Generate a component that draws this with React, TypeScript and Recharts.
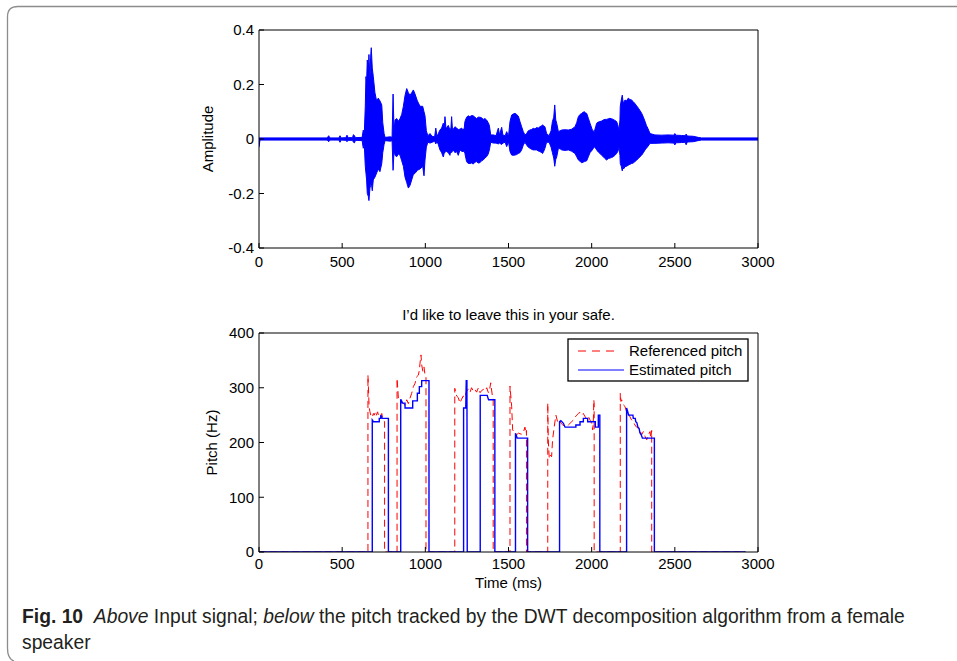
import React from 'react';
import { ComposedChart, Area, Line, XAxis, YAxis } from 'recharts';

const FONT = "'Liberation Sans', Arial, Helvetica, sans-serif";

// ---- Top panel: input signal envelope (ms, amplitude) ----
const waveTime = [
  0, 6, 410, 419, 426, 480, 487, 494, 522, 529, 536, 562, 568, 574, 580, 620, 627, 633, 639, 643,
  647, 651, 657, 661, 667, 671, 675, 681, 687, 697, 707, 717, 727, 738, 744, 752, 758, 790, 800, 806,
  812, 818, 828, 838, 848, 858, 868, 878, 888, 898, 908, 918, 928, 938, 952, 968, 984, 992, 998, 1006,
  1015, 1028, 1040, 1056, 1063, 1070, 1078, 1088, 1098, 1108, 1114, 1118, 1124, 1128, 1138, 1148, 1154, 1158, 1163, 1168,
  1178, 1188, 1198, 1208, 1218, 1228, 1234, 1238, 1248, 1258, 1268, 1278, 1288, 1298, 1308, 1318, 1328, 1338, 1348, 1358,
  1368, 1378, 1385, 1393, 1410, 1425, 1439, 1446, 1459, 1466, 1480, 1489, 1500, 1509, 1519, 1529, 1539, 1549, 1559, 1569,
  1579, 1589, 1599, 1609, 1619, 1629, 1639, 1649, 1659, 1669, 1679, 1689, 1699, 1705, 1712, 1719, 1729, 1744, 1756, 1764,
  1772, 1778, 1784, 1790, 1800, 1810, 1820, 1840, 1860, 1880, 1900, 1910, 1920, 1930, 1940, 1948, 1956, 1963, 1970, 1980,
  1990, 2004, 2016, 2024, 2030, 2040, 2050, 2060, 2070, 2080, 2090, 2100, 2110, 2120, 2130, 2140, 2150, 2158, 2164, 2170,
  2172, 2178, 2184, 2188, 2192, 2200, 2210, 2220, 2230, 2240, 2250, 2260, 2270, 2281, 2291, 2301, 2311, 2321, 2329, 2337,
  2351, 2380, 2420, 2460, 2495, 2500, 2506, 2540, 2562, 2568, 2575, 2610, 2640, 2660, 3000,
];
const waveMax = [
  0.004, 0.004, 0.004, 0.012, 0.004, 0.004, 0.012, 0.004, 0.005, 0.014, 0.005, 0.005, 0.016, 0.012, 0.005, 0.006, 0.033, 0.02, 0.12, 0.229,
  0.21, 0.29, 0.25, 0.31, 0.22, 0.3, 0.335, 0.26, 0.23, 0.17, 0.14, 0.15, 0.14, 0.125, 0.06, 0.02, 0.006, 0.008, 0.006, 0.165,
  0.03, 0.07, 0.075, 0.065, 0.075, 0.09, 0.12, 0.16, 0.185, 0.17, 0.16, 0.17, 0.18, 0.165, 0.14, 0.12, 0.12, 0.1, 0.085, 0.03,
  0.012, 0.02, 0.01, 0.008, 0.04, 0.008, 0.02, 0.033, 0.04, 0.058, 0.04, 0.082, 0.04, 0.04, 0.05, 0.033, 0.04, 0.082, 0.036, 0.036,
  0.045, 0.04, 0.035, 0.036, 0.04, 0.033, 0.04, 0.064, 0.08, 0.085, 0.082, 0.086, 0.085, 0.08, 0.075, 0.08, 0.08, 0.078, 0.072, 0.075,
  0.07, 0.06, 0.05, 0.015, 0.015, 0.012, 0.04, 0.015, 0.043, 0.015, 0.012, 0.027, 0.01, 0.064, 0.088, 0.092, 0.094, 0.09, 0.084, 0.064,
  0.045, 0.027, 0.015, 0.02, 0.03, 0.033, 0.035, 0.039, 0.037, 0.042, 0.04, 0.045, 0.048, 0.052, 0.048, 0.045, 0.02, 0.012, 0.03, 0.064,
  0.08, 0.125, 0.07, 0.057, 0.027, 0.03, 0.033, 0.034, 0.033, 0.036, 0.045, 0.06, 0.082, 0.09, 0.094, 0.098, 0.1, 0.096, 0.094, 0.076,
  0.058, 0.033, 0.027, 0.045, 0.058, 0.062, 0.064, 0.066, 0.07, 0.072, 0.072, 0.074, 0.076, 0.074, 0.072, 0.068, 0.064, 0.05, 0.03, 0.07,
  0.12, 0.143, 0.161, 0.14, 0.13, 0.143, 0.14, 0.15, 0.145, 0.143, 0.137, 0.13, 0.122, 0.113, 0.104, 0.094, 0.08, 0.064, 0.05, 0.04,
  0.02, 0.015, 0.014, 0.015, 0.014, 0.02, 0.014, 0.013, 0.012, 0.018, 0.011, 0.01, 0.006, 0.004, 0.004,
];
const waveMin = [
  -0.03, -0.004, -0.004, -0.01, -0.004, -0.004, -0.012, -0.004, -0.005, -0.01, -0.005, -0.005, -0.012, -0.014, -0.005, -0.006, -0.034, -0.02, -0.1, -0.125,
  -0.15, -0.2, -0.21, -0.226, -0.18, -0.17, -0.16, -0.19, -0.15, -0.14, -0.125, -0.11, -0.12, -0.09, -0.05, -0.02, -0.006, -0.008, -0.006, -0.115,
  -0.04, -0.06, -0.065, -0.055, -0.06, -0.08, -0.1, -0.14, -0.16, -0.18, -0.17, -0.15, -0.13, -0.126, -0.115, -0.11, -0.1, -0.135, -0.077, -0.03,
  -0.012, -0.015, -0.012, -0.008, -0.018, -0.008, -0.02, -0.04, -0.05, -0.066, -0.05, -0.05, -0.045, -0.046, -0.05, -0.06, -0.04, -0.05, -0.045, -0.04,
  -0.05, -0.046, -0.06, -0.04, -0.045, -0.046, -0.045, -0.053, -0.083, -0.09, -0.09, -0.088, -0.092, -0.085, -0.083, -0.088, -0.087, -0.08, -0.077, -0.07,
  -0.065, -0.055, -0.04, -0.012, -0.015, -0.015, -0.018, -0.015, -0.02, -0.015, -0.012, -0.028, -0.01, -0.046, -0.059, -0.06, -0.059, -0.057, -0.053, -0.05,
  -0.04, -0.022, -0.012, -0.022, -0.03, -0.034, -0.038, -0.04, -0.04, -0.04, -0.044, -0.046, -0.05, -0.053, -0.045, -0.034, -0.012, -0.012, -0.03, -0.05,
  -0.07, -0.1, -0.075, -0.065, -0.034, -0.036, -0.04, -0.042, -0.04, -0.045, -0.053, -0.065, -0.077, -0.082, -0.087, -0.085, -0.083, -0.082, -0.08, -0.065,
  -0.05, -0.04, -0.028, -0.035, -0.04, -0.048, -0.053, -0.06, -0.065, -0.072, -0.077, -0.072, -0.07, -0.068, -0.065, -0.06, -0.053, -0.045, -0.03, -0.06,
  -0.09, -0.1, -0.117, -0.1, -0.11, -0.102, -0.1, -0.096, -0.093, -0.09, -0.088, -0.083, -0.078, -0.071, -0.065, -0.059, -0.05, -0.04, -0.034, -0.028,
  -0.016, -0.016, -0.015, -0.014, -0.015, -0.022, -0.014, -0.013, -0.012, -0.021, -0.011, -0.01, -0.006, -0.004, -0.004,
];

// ---- Bottom panel: pitch tracks (ms, Hz) ----
const refTime = [
  0, 655, 655, 662, 667, 672, 677, 683, 688, 693, 698, 703, 708, 713, 718, 723, 728, 733, 738, 743, 748, 755, 755,
  830, 830, 838, 848, 858, 868, 878, 888, 898, 908, 918, 928, 938, 948, 958, 964, 968, 974, 978, 985, 992, 997, 1004, 1004,
  1177, 1177, 1188, 1198, 1208, 1218, 1228, 1238, 1248, 1258, 1268, 1278, 1288, 1298, 1308, 1319, 1329, 1339, 1349, 1359, 1369, 1379, 1385, 1393, 1403, 1408, 1408,
  1509, 1509, 1519, 1525, 1539, 1549, 1559, 1569, 1579, 1589, 1599, 1605, 1608, 1608,
  1736, 1736, 1739, 1745, 1751, 1759, 1765, 1775, 1785, 1795, 1806, 1816, 1826, 1840, 1850, 1860, 1870, 1880, 1890, 1900, 1910, 1920, 1930, 1940, 1950, 1960, 1970, 1980, 1990, 2000, 2006, 2010, 2013, 2015, 2015,
  2172, 2172, 2176, 2180, 2190, 2200, 2210, 2220, 2230, 2240, 2250, 2260, 2270, 2280, 2290, 2300, 2311, 2321, 2331, 2341, 2351, 2355, 2361, 2361, 2925,
];
const refPitch = [
  0, 0, 323, 266, 256, 250, 252, 248, 253, 250, 254, 248, 252, 256, 250, 248, 246, 250, 253, 245, 241, 238, 0,
  0, 317, 281, 275, 275, 271, 268, 278, 271, 281, 290, 302, 308, 320, 323, 332, 345, 360, 342, 330, 338, 326, 320, 0,
  0, 299, 285, 282, 272, 279, 285, 282, 294, 297, 291, 300, 294, 297, 292, 300, 291, 295, 297, 294, 300, 291, 294, 309, 285, 280, 0,
  0, 303, 266, 223, 217, 214, 217, 216, 215, 218, 228, 217, 222, 0,
  0, 272, 205, 171, 177, 174, 205, 229, 250, 238, 241, 235, 232, 230, 229, 232, 235, 238, 241, 246, 250, 253, 255, 250, 253, 247, 244, 248, 241, 235, 223, 238, 278, 270, 0,
  0, 290, 275, 278, 269, 266, 256, 253, 247, 241, 238, 232, 228, 226, 223, 214, 220, 211, 205, 214, 220, 208, 222, 0, 0,
];
const estTime = [
  0, 681, 681, 688, 723, 723, 731, 733, 738, 740, 778, 778,
  852, 852, 857, 862, 878, 878, 924, 924, 952, 952, 964, 964, 978, 978, 1022, 1022,
  1230, 1230, 1243, 1246, 1250, 1252,
  1330, 1330, 1372, 1376, 1380, 1418, 1418,
  1542, 1542, 1548, 1552, 1615, 1615,
  1807, 1807, 1815, 1830, 1840, 1905, 1905, 1930, 1930, 1950, 1950, 1976, 1976, 2022, 2022, 2040, 2040, 2049, 2049,
  2210, 2210, 2218, 2222, 2248, 2250, 2262, 2265, 2272, 2278, 2285, 2290, 2298, 2305, 2377, 2377, 2925,
];
const estPitch = [
  0, 0, 241, 238, 238, 244, 244, 250, 246, 244, 244, 0,
  0, 279, 276, 272, 272, 263, 263, 276, 276, 290, 290, 302, 302, 313, 313, 0,
  0, 263, 263, 313, 313, 0,
  0, 286, 286, 282, 278, 278, 0,
  0, 217, 212, 208, 208, 0,
  0, 238, 240, 235, 228, 228, 232, 232, 238, 238, 244, 244, 238, 238, 228, 228, 250, 250, 0,
  0, 263, 255, 250, 250, 244, 244, 238, 236, 228, 226, 218, 214, 208, 208, 0, 0,
];

const timeTicks = [0, 500, 1000, 1500, 2000, 2500, 3000];
const ampTicks = [-0.4, -0.2, 0, 0.2, 0.4];
const pitchTicks = [0, 100, 200, 300, 400];

const titleText = 'I\u2019d like to leave this in your safe.';
const legendLabels = ['Referenced pitch', 'Estimated pitch'];

const waveData = waveTime.map((t, i) => ({ t, range: [waveMin[i], waveMax[i]] }));
const refData = refTime.map((t, i) => ({ t, p: refPitch[i] }));
const estData = estTime.map((t, i) => ({ t, p: estPitch[i] }));

const tickStyle = { fontSize: 15, fontFamily: FONT, fill: '#000' };
const labelStyle = { fontSize: 15, fontFamily: FONT, fill: '#000' };
const black = { stroke: '#000', strokeWidth: 1 };

function TopChart() {
  return (
    <ComposedChart
      width={957}
      height={280}
      data={waveData}
      margin={{ top: 29, right: 198, bottom: 2, left: 157 }}
      style={{ fontFamily: FONT }}
    >
      <XAxis
        dataKey="t"
        type="number"
        domain={[0, 3000]}
        ticks={timeTicks}
        interval={0}
        allowDataOverflow
        height={30}
        tickSize={-5}
        tickMargin={13}
        axisLine={black}
        tickLine={black}
        tick={tickStyle}
      />
      <XAxis
        xAxisId="top"
        orientation="top"
        type="number"
        domain={[0, 3000]}
        ticks={timeTicks}
        interval={0}
        allowDataOverflow
        height={1}
        tickSize={-5}
        axisLine={black}
        tickLine={black}
        tick={false}
      />
      <YAxis
        type="number"
        domain={[-0.4, 0.4]}
        ticks={ampTicks}
        interval={0}
        allowDataOverflow
        width={102}
        tickSize={-5}
        tickMargin={10}
        axisLine={black}
        tickLine={black}
        tick={tickStyle}
        label={{ value: 'Amplitude', angle: -90, position: 'center', style: labelStyle }}
      />
      <YAxis
        yAxisId="right"
        orientation="right"
        type="number"
        domain={[-0.4, 0.4]}
        ticks={ampTicks}
        interval={0}
        allowDataOverflow
        width={1}
        tickSize={-5}
        axisLine={black}
        tickLine={black}
        tick={false}
      />
      <Area
        type="linear"
        dataKey="range"
        stroke="#0000ff"
        strokeWidth={1}
        fill="#0000ff"
        fillOpacity={1}
        dot={false}
        activeDot={false}
        isAnimationActive={false}
      />
    </ComposedChart>
  );
}

function BottomChart() {
  return (
    <ComposedChart
      width={957}
      height={310}
      margin={{ top: 42, right: 198, bottom: 8, left: 165 }}
      style={{ fontFamily: FONT }}
    >
      <XAxis
        dataKey="t"
        type="number"
        domain={[0, 3000]}
        ticks={timeTicks}
        interval={0}
        allowDataOverflow
        height={40}
        tickSize={-5}
        tickMargin={11}
        axisLine={black}
        tickLine={black}
        tick={tickStyle}
        label={{ value: 'Time (ms)', position: 'insideBottom', offset: 4, style: labelStyle }}
      />
      <XAxis
        xAxisId="top"
        orientation="top"
        type="number"
        domain={[0, 3000]}
        ticks={timeTicks}
        interval={0}
        allowDataOverflow
        height={1}
        tickSize={-5}
        axisLine={black}
        tickLine={black}
        tick={false}
        label={{ value: titleText, position: 'top', offset: 12, style: labelStyle }}
      />
      <YAxis
        type="number"
        domain={[0, 400]}
        ticks={pitchTicks}
        interval={0}
        allowDataOverflow
        width={94}
        tickSize={-5}
        tickMargin={10}
        axisLine={black}
        tickLine={black}
        tick={tickStyle}
        label={{ value: 'Pitch (Hz)', angle: -90, position: 'center', style: labelStyle }}
      />
      <YAxis
        yAxisId="right"
        orientation="right"
        type="number"
        domain={[0, 400]}
        ticks={pitchTicks}
        interval={0}
        allowDataOverflow
        width={1}
        tickSize={-5}
        axisLine={black}
        tickLine={black}
        tick={false}
      />
      <Line
        data={refData}
        dataKey="p"
        type="linear"
        stroke="#ff0000"
        strokeWidth={1}
        strokeDasharray="7 4"
        dot={false}
        activeDot={false}
        isAnimationActive={false}
      />
      <Line
        data={estData}
        dataKey="p"
        type="linear"
        stroke="#0000ff"
        strokeWidth={1.4}
        dot={false}
        activeDot={false}
        isAnimationActive={false}
      />
    </ComposedChart>
  );
}

function LegendBox() {
  return (
    <svg width={182} height={44} style={{ position: 'absolute', left: 567, top: 338 }}>
      <rect x={1} y={1} width={180} height={42} fill="#fff" stroke="#000" strokeWidth={1.3} />
      <line x1={11} y1={13} x2={51} y2={13} stroke="#ff0000" strokeWidth={1} strokeDasharray="8 6" />
      <text x={62} y={18} fontSize={15} fontFamily={FONT} fill="#000">{legendLabels[0]}</text>
      <line x1={11} y1={32} x2={57} y2={32} stroke="#0000ff" strokeWidth={1.2} />
      <text x={62} y={37} fontSize={15} fontFamily={FONT} fill="#000">{legendLabels[1]}</text>
    </svg>
  );
}

export default function App() {
  return (
    <div style={{ position: 'absolute', left: 0, top: 0, width: 957, height: 661, background: '#fff', overflow: 'hidden' }}>
      <svg width={957} height={661} style={{ position: 'absolute', left: 0, top: 0 }}>
        <path d="M 14 661 Q 7.5 659 7.5 648 L 7.5 17 Q 7.5 6.5 18 6.5 L 957 6.5" fill="none" stroke="#8c8c8c" strokeWidth={1.3} />
      </svg>
      <div style={{ position: 'absolute', left: 0, top: 0 }}>
        <TopChart />
      </div>
      <div style={{ position: 'absolute', left: 0, top: 290 }}>
        <BottomChart />
      </div>
      <LegendBox />
      <div
        style={{
          position: 'absolute',
          left: 22,
          top: 604,
          width: 930,
          fontFamily: "'Liberation Sans', Arial, sans-serif",
          fontSize: 19.3,
          lineHeight: '26px',
          color: '#231f20',
          whiteSpace: 'nowrap',
        }}
      >
        <b>Fig. 10</b>&nbsp;&nbsp;<i>Above</i> Input signal; <i>below</i> the pitch tracked by the DWT decomposition algorithm from a female
        <br />
        speaker
      </div>
    </div>
  );
}
